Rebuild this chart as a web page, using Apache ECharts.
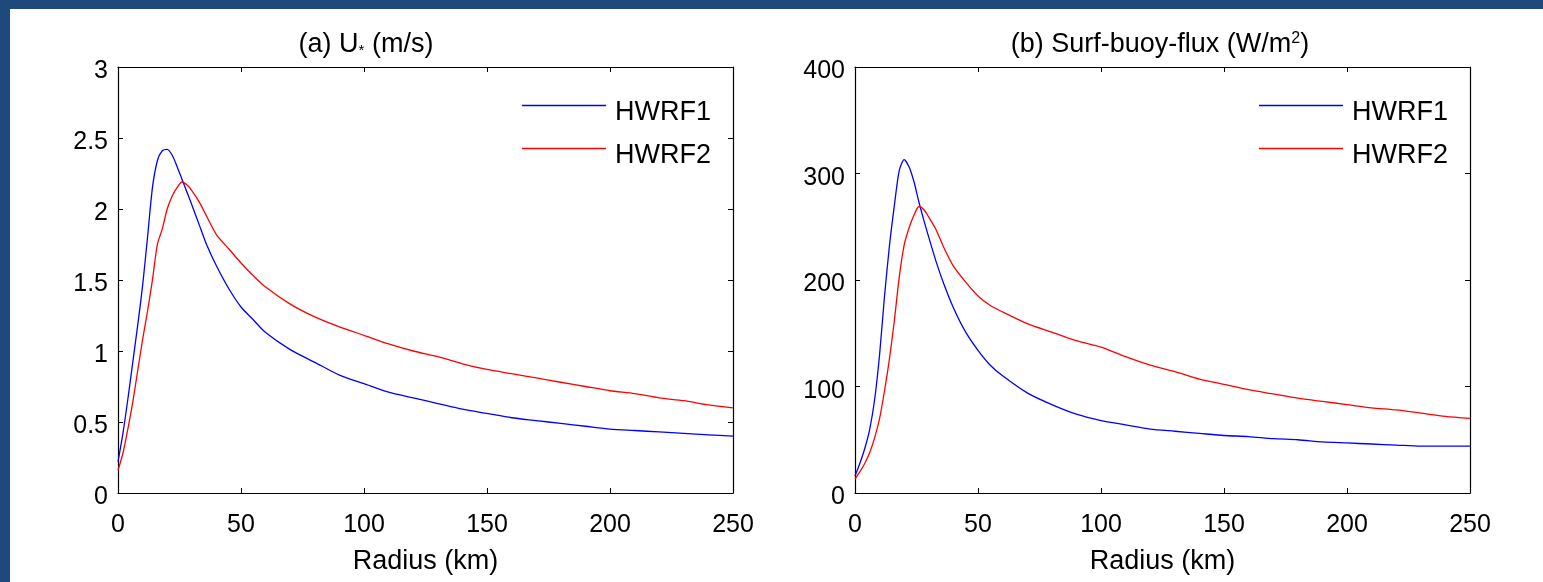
<!DOCTYPE html>
<html>
<head>
<meta charset="utf-8">
<script src="https://cdn.jsdelivr.net/npm/echarts@6/dist/echarts.min.js"></script>
<style>
html,body{margin:0;padding:0;background:#fff;}
#chart{width:1543px;height:582px;}
</style>
</head>
<body>
<div id="chart"></div>
<script>
// ---- data ----
const radius = [0,2,4,6,8,10,12,14,16,18,20,22,24,26,28,30,33,36,40,45,50,55,60,70,80,90,100,110,120,130,140,150,160,170,180,190,200,210,220,230,240,250];
const ustarHWRF1 = [0.22,0.42,0.66,0.92,1.18,1.46,1.80,2.15,2.34,2.41,2.42,2.38,2.30,2.21,2.12,2.03,1.89,1.75,1.60,1.44,1.31,1.22,1.13,1.01,0.92,0.83,0.77,0.71,0.67,0.63,0.59,0.56,0.53,0.51,0.49,0.47,0.45,0.44,0.43,0.42,0.41,0.40];
const ustarHWRF2 = [0.16,0.28,0.45,0.64,0.86,1.08,1.28,1.50,1.75,1.86,2.00,2.09,2.15,2.19,2.17,2.13,2.05,1.95,1.82,1.72,1.62,1.53,1.45,1.33,1.24,1.17,1.11,1.05,1.00,0.96,0.91,0.87,0.84,0.81,0.78,0.75,0.72,0.70,0.67,0.65,0.62,0.60];
const fluxHWRF1 = [16,28,42,60,88,130,185,232,270,303,313,306,292,273,256,240,217,197,174,151,134,120,110,94,83,74,68,64,60,58,56,54,53,51,50,48,47,46,45,44,44,44];
const fluxHWRF2 = [13,20,28,38,52,70,96,126,162,203,233,249,261,269,266,259,247,231,213,198,185,176,170,159,151,143,137,128,120,114,107,102,97,93,89,86,83,80,78,75,72,70];
const seriesNames = ['HWRF1','HWRF2'];
const seriesColors = ['#0000ff','#ff0000'];
const xTicks = {min:0, max:250, interval:50};
const yTicksA = {min:0, max:3, interval:0.5};
const yTicksB = {min:0, max:400, interval:100};
const xName = 'Radius (km)';

function pairs(xs, ys){ return xs.map((x,i)=>[x, ys[i]]); }

const FONT = 'Liberation Sans';
const black = '#000';

function xAxes(gi){
  return [
    {gridIndex:gi, type:'value', min:xTicks.min, max:xTicks.max, interval:xTicks.interval, position:'bottom',
     name:xName, nameLocation:'middle', nameGap:55,
     nameTextStyle:{fontFamily:FONT, fontSize:27, color:black},
     axisLine:{show:true, onZero:false, lineStyle:{color:black, width:1.2}},
     axisTick:{show:true, inside:true, length:5, lineStyle:{color:black}},
     axisLabel:{show:true, margin:20, fontFamily:FONT, fontSize:25, color:black},
     splitLine:{show:false}},
    {gridIndex:gi, type:'value', min:xTicks.min, max:xTicks.max, interval:xTicks.interval, position:'top',
     axisLine:{show:true, onZero:false, lineStyle:{color:black, width:1.2}},
     axisTick:{show:true, inside:true, length:5, lineStyle:{color:black}},
     axisLabel:{show:false}, splitLine:{show:false}}
  ];
}
function yAxes(gi, t){
  return [
    {gridIndex:gi, type:'value', min:t.min, max:t.max, interval:t.interval, position:'left',
     axisLine:{show:true, onZero:false, lineStyle:{color:black, width:1.2}},
     axisTick:{show:true, inside:true, length:5, lineStyle:{color:black}},
     axisLabel:{show:true, margin:10, color:black,
       formatter:function(v){ return '{p|' + v + '}'; },
       rich:{p:{fontFamily:FONT, fontSize:25, color:black, padding:[9,0,0,0]}}},
     splitLine:{show:false}},
    {gridIndex:gi, type:'value', min:t.min, max:t.max, interval:t.interval, position:'right',
     axisLine:{show:true, onZero:false, lineStyle:{color:black, width:1.2}},
     axisTick:{show:true, inside:true, length:5, lineStyle:{color:black}},
     axisLabel:{show:false}, splitLine:{show:false}}
  ];
}
function line(name, color, xi, yi, data){
  return {name:name, type:'line', xAxisIndex:xi, yAxisIndex:yi, data:data,
    symbol:'none', showSymbol:false, smooth:0.25, animation:false,
    lineStyle:{color:color, width:1.3}, itemStyle:{color:color}};
}
function legend(left){
  return {left:left, top:99, orient:'vertical', padding:0, itemGap:16,
    itemWidth:84, itemHeight:1.4, icon:'rect',
    data:seriesNames,
    formatter:'{t|{name}}',
    textStyle:{color:black, rich:{t:{fontFamily:FONT, fontSize:27, color:black, padding:[14,0,0,4]}}},
    selectedMode:false};
}

const chart = echarts.init(document.getElementById('chart'), null, {renderer:'canvas'});
chart.setOption({
  backgroundColor:'#ffffff',
  animation:false,
  title:[
    {text:'(a) U{sub|*} (m/s)', left:361, top:26, textAlign:'center',
     textStyle:{fontFamily:FONT, fontSize:27, fontWeight:'normal', color:black,
       rich:{sub:{fontFamily:FONT, fontSize:15, color:black, verticalAlign:'bottom'}}}},
    {text:'(b) Surf-buoy-flux (W/m{sup|2})', left:1155, top:26, textAlign:'center',
     textStyle:{fontFamily:FONT, fontSize:27, fontWeight:'normal', color:black,
       rich:{sup:{fontFamily:FONT, fontSize:16, color:black, verticalAlign:'top'}}}}
  ],
  grid:[
    {left:118, top:67, width:615, height:426},
    {left:855, top:67, width:615, height:426}
  ],
  xAxis:[...xAxes(0), ...xAxes(1)],
  yAxis:[...yAxes(0, yTicksA), ...yAxes(1, yTicksB)],
  legend:[legend(522), legend(1259)],
  series:[
    line(seriesNames[0], seriesColors[0], 0, 0, pairs(radius, ustarHWRF1)),
    line(seriesNames[1], seriesColors[1], 0, 0, pairs(radius, ustarHWRF2)),
    line(seriesNames[0], seriesColors[0], 2, 2, pairs(radius, fluxHWRF1)),
    line(seriesNames[1], seriesColors[1], 2, 2, pairs(radius, fluxHWRF2))
  ],
  graphic:[
    {type:'rect', left:0, top:0, shape:{x:0,y:0,width:1543,height:9}, style:{fill:'#1f497d'}, silent:true},
    {type:'rect', left:0, top:0, shape:{x:0,y:0,width:10,height:582}, style:{fill:'#1f497d'}, silent:true}
  ]
});
</script>
</body>
</html>
